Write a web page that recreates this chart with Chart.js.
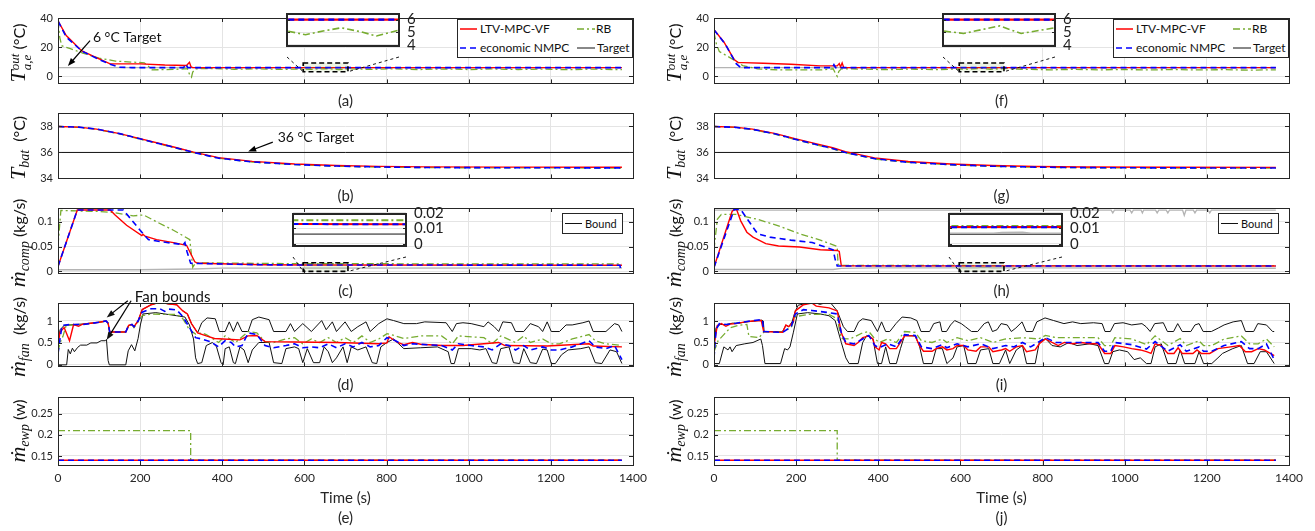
<!DOCTYPE html>
<html>
<head>
<meta charset="utf-8">
<script src="https://cdn.jsdelivr.net/npm/chart.js@4.4.0/dist/chart.umd.min.js"></script>
<style>
  body { margin: 0; background: #fff; width: 1315px; height: 531px; overflow: hidden; position: relative; font-family: Lato, sans-serif; color: #262626; }
  canvas { position: absolute; }
  .lbl { position: absolute; transform: translate(-50%, -50%); font-size: 15px; white-space: nowrap; z-index: 5; }
  .ylab { position: absolute; transform: translate(-50%, -50%) rotate(-90deg); white-space: nowrap; font-size: 16px; z-index: 5; color: #111; }
  .mi { font-family: 'Liberation Serif', serif; font-style: italic; font-size: 22px; }
  .sb { font-family: 'Liberation Serif', serif; font-style: italic; font-size: 14px; vertical-align: -4px; }
  .stk { display: inline-flex; flex-direction: column; font-family: 'Liberation Serif', serif; font-style: italic; font-size: 13px; line-height: 12px; vertical-align: middle; }
  .leg { position: absolute; z-index: 4; }
</style>
</head>
<body>
<script>
// ---- data: time (s), value pairs ----
const xTicks = [0, 200, 400, 600, 800, 1000, 1200, 1400]
const xTickLabels = ['0', '200', '400', '600', '800', '1000', '1200', '1400']
const insetXTicks = [600, 610, 620, 630, 640, 650, 660, 670, 680, 690, 700]

const yTicksA = [0, 20, 40], yLabelsA = ['0', '20', '40']
const yTicksB = [34, 36, 38], yLabelsB = ['34', '36', '38']
const yTicksC = [0, 0.05, 0.1], yLabelsC = ['0', '0.05', '0.1']
const yTicksD = [0, 0.5, 1], yLabelsD = ['0', '0.5', '1']
const yTicksE = [0.15, 0.2, 0.25], yLabelsE = ['0.15', '0.2', '0.25']
const insTicksT = [4, 5, 6], insLabelsT = ['4', '5', '6']
const insTicksM = [0, 0.01, 0.02], insLabelsM = ['0', '0.01', '0.02']

// (a) air outlet temperature
const aRed = [[0,38],[20,28],[58,17.4],[100,12],[127,8.6],[200,8.6],[260,7.8],[313,7.5],[320,9.7],[324,6.5],[328,6],[1373,6]]
const aBlue = [[0,38],[20,27],[58,17.4],[100,11.5],[127,8.3],[150,6.3],[180,6],[306,6],[311,8.5],[316,6],[1373,6]]
const aGreen = [[0,38],[4,27],[9,21],[30,19],[60,16],[100,12.5],[140,10.5],[180,9.8],[210,9.3],[220,7],[229,4.5],[260,4.6],[300,5],[315,5.3],[320,1.5],[325,-0.5],[328,3],[335,5.2],[380,5.4],[430,4.9],[480,5.2],[540,4.8],[597,5.1],[615,4.8],[632,5.1],[650,5.35],[668,5.05],[684,4.7],[705,5.15],[760,4.8],[820,5.2],[880,4.7],[940,5.1],[1000,4.7],[1060,5.1],[1120,4.7],[1180,5],[1240,4.6],[1300,5],[1373,4.6]]
const aTarget = [[0,6],[1373,6]]

// (b) battery temperature
const bRed = [[0,38],[50,37.95],[94,37.8],[150,37.45],[197,37.08],[250,36.67],[289,36.36],[330,36.03],[391,35.6],[473,35.31],[576,35.11],[678,34.99],[781,34.93],[900,34.89],[1100,34.87],[1373,34.86]]
const bBlue = [[0,38],[50,37.95],[94,37.8],[150,37.45],[197,37.07],[250,36.65],[289,36.34],[330,36],[391,35.56],[473,35.27],[576,35.07],[678,34.95],[781,34.88],[900,34.84],[1100,34.82],[1373,34.81]]
const bGreen = [[0,38],[50,37.94],[94,37.78],[150,37.43],[197,37.05],[250,36.63],[289,36.32],[330,35.98],[391,35.55],[473,35.26],[576,35.06],[678,34.94],[781,34.87],[900,34.83],[1100,34.81],[1373,34.8]]
const bTarget = [[0,36],[1400,36]]

// (c) compressor mass flow
const cRed = [[0,0.0096],[47,0.124],[127,0.124],[139,0.114],[167,0.093],[204,0.072],[207,0.075],[212,0.071],[240,0.064],[281,0.058],[313,0.0525],[333,0.019],[340,0.016],[500,0.013],[600,0.0127],[1373,0.0122]]
const cBlue = [[0,0.0096],[47,0.124],[159,0.124],[200,0.083],[220,0.064],[265,0.058],[305,0.054],[309,0.058],[314,0.04],[323,0.016],[500,0.013],[600,0.0127],[1368,0.0122],[1370,0.004]]
const cGreen = [[0,0.052],[7,0.123],[97,0.121],[135,0.119],[183,0.112],[208,0.114],[240,0.1],[281,0.083],[321,0.064],[328,0.008],[335,0.017],[600,0.0152],[1373,0.0148]]
const cBound = [[0,0.003],[200,0.003],[330,0.0045],[400,0.0062],[1373,0.0065]]

// (d) fan mass flow
const dRed = [[0,0.45],[5,0.75],[15,0.85],[28,0.55],[38,0.92],[50,0.88],[60,0.93],[80,0.95],[100,0.97],[117,1],[122,0.95],[126,0.75],[165,0.75],[172,0.9],[180,0.92],[185,0.87],[195,1],[205,1.26],[227,1.37],[248,1.43],[268,1.39],[289,1.37],[304,1.23],[315,1.16],[325,0.94],[340,0.73],[361,0.66],[381,0.6],[402,0.59],[443,0.57],[463,0.66],[484,0.67],[504,0.53],[576,0.52],[678,0.51],[781,0.48],[801,0.5],[806,0.64],[827,0.51],[842,0.46],[863,0.51],[883,0.47],[934,0.44],[986,0.44],[1073,0.51],[1088,0.44],[1191,0.43],[1293,0.48],[1303,0.43],[1373,0.41]]
const dBlue = [[0,0.25],[5,0.6],[10,0.9],[30,0.92],[60,0.92],[100,0.97],[117,1],[122,0.95],[126,0.75],[165,0.75],[172,0.9],[180,0.92],[185,0.87],[195,1],[205,1.2],[227,1.28],[248,1.28],[260,1.22],[270,1.27],[289,1.25],[304,1.1],[320,0.85],[335,0.62],[350,0.59],[371,0.53],[391,0.41],[407,0.55],[422,0.51],[432,0.41],[448,0.44],[463,0.73],[484,0.69],[504,0.44],[525,0.39],[555,0.44],[576,0.48],[596,0.39],[617,0.41],[637,0.39],[658,0.48],[678,0.39],[699,0.48],[719,0.41],[740,0.51],[760,0.41],[781,0.44],[801,0.62],[822,0.55],[842,0.44],[863,0.48],[934,0.44],[960,0.34],[975,0.48],[1006,0.44],[1037,0.41],[1057,0.34],[1078,0.48],[1098,0.44],[1114,0.34],[1134,0.44],[1150,0.34],[1180,0.41],[1201,0.34],[1221,0.34],[1252,0.41],[1293,0.55],[1308,0.41],[1334,0.37],[1355,0.44],[1373,0.12]]
const dGreen = [[0,0.3],[5,0.5],[12,0.65],[20,0.9],[60,0.92],[100,0.97],[117,1],[122,0.95],[126,0.75],[165,0.75],[172,0.88],[180,0.92],[185,0.85],[195,0.98],[205,1.12],[227,1.16],[260,1.15],[289,1.15],[304,1.05],[320,0.8],[335,0.7],[350,0.73],[361,0.69],[391,0.51],[407,0.66],[432,0.51],[463,0.76],[484,0.73],[504,0.53],[525,0.51],[555,0.59],[576,0.62],[596,0.48],[617,0.59],[637,0.51],[658,0.62],[678,0.51],[699,0.62],[719,0.51],[740,0.66],[760,0.51],[781,0.59],[801,0.71],[822,0.66],[842,0.6],[883,0.66],[934,0.66],[960,0.48],[975,0.66],[1037,0.62],[1057,0.48],[1078,0.66],[1114,0.51],[1134,0.66],[1150,0.51],[1180,0.59],[1201,0.48],[1221,0.48],[1252,0.59],[1293,0.69],[1308,0.55],[1334,0.48],[1373,0.44]]
const dUpper = [[0,0.5],[5,0.8],[15,0.9],[40,0.92],[60,0.93],[80,0.95],[100,0.97],[117,1],[122,0.95],[126,0.75],[165,0.75],[172,0.9],[180,0.92],[185,0.87],[195,1],[205,1.26],[227,1.37],[248,1.43],[268,1.39],[289,1.37],[304,1.23],[315,1.16],[325,0.94],[340,0.73],[350,0.96],[363,1.07],[383,1.05],[393,0.76],[407,0.76],[417,0.98],[427,0.76],[437,0.98],[448,0.76],[463,0.76],[473,1.03],[489,1.09],[514,1.03],[525,0.76],[555,0.76],[566,0.94],[576,0.76],[596,0.94],[617,0.76],[642,1.01],[653,0.8],[668,0.98],[678,0.76],[699,0.98],[714,0.76],[730,0.87],[750,0.98],[760,0.76],[781,0.94],[801,1.05],[817,1.01],[842,0.94],[873,0.94],[893,0.98],[945,0.96],[960,0.76],[970,0.94],[986,0.96],[1006,0.94],[1037,0.87],[1047,0.98],[1062,0.87],[1073,0.76],[1083,0.98],[1104,0.96],[1114,0.76],[1134,0.76],[1150,0.94],[1170,0.87],[1180,0.76],[1191,0.98],[1201,0.76],[1221,0.76],[1237,0.91],[1252,0.91],[1278,0.96],[1293,1],[1303,0.76],[1334,0.76],[1355,0.94],[1365,0.91],[1373,0.76]]
const dLower = [[0,0],[21,0],[25,0.35],[30,0.25],[35,0.38],[40,0.3],[48,0.4],[55,0.45],[70,0.45],[80,0.5],[95,0.5],[105,0.55],[115,0.55],[118,0.58],[122,0.1],[125,0],[165,0],[171,0.32],[179,0.46],[187,0.32],[195,0.6],[201,0.93],[207,1.16],[238,1.19],[289,1.12],[309,1.09],[320,0.91],[330,0.59],[335,0.16],[340,0.03],[350,0.05],[361,0.44],[376,0.51],[386,0.41],[397,0.05],[402,0],[407,0.37],[417,0.41],[427,0.05],[432,0.03],[443,0.41],[453,0.34],[463,0.05],[473,0.34],[489,0.51],[514,0.51],[525,0.05],[545,0.03],[555,0.37],[576,0.41],[586,0.37],[596,0.05],[607,0.37],[622,0.05],[637,0.05],[648,0.41],[658,0.3],[668,0.05],[678,0.16],[694,0.41],[704,0.05],[714,0.41],[730,0.34],[750,0.41],[765,0.05],[776,0.03],[786,0.41],[801,0.51],[817,0.59],[842,0.37],[883,0.39],[924,0.41],[950,0.3],[957,0.03],[965,0.03],[975,0.37],[1006,0.37],[1027,0.34],[1042,0.37],[1057,0.05],[1068,0.03],[1078,0.37],[1098,0.41],[1109,0.05],[1124,0.03],[1134,0.37],[1150,0.05],[1165,0.03],[1180,0.36],[1191,0.34],[1201,0.03],[1211,0.03],[1226,0.23],[1242,0.34],[1273,0.37],[1293,0.41],[1308,0.05],[1324,0.03],[1344,0.34],[1360,0.3],[1373,0.03]]

// (e) evaporator water pump
const eRed = [[0,0.14],[1373,0.14]]
const eBlue = [[0,0.14],[1373,0.14]]
const eGreen = [[0,0.21],[323,0.21],[323,0.14],[1373,0.14]]

// (f)
const fRed = [[0,32],[24,23.6],[49,11.6],[59,9.4],[70,9.4],[120,9],[187,8.3],[259,7.2],[300,7.2],[305,8.8],[308,6.5],[312,9.2],[316,6],[1368,6]]
const fBlue = [[0,32],[29,21.4],[54,8.7],[65,6],[288,6],[292,8],[296,6],[1368,6]]
const fGreen = [[0,30],[6,22],[13,17],[44,12],[70,7.4],[106,5.2],[157,4.4],[259,4.4],[290,5.2],[296,2],[300,0],[304,3.5],[310,5.2],[360,5],[420,4.6],[480,5],[540,4.6],[597,5.1],[617,4.9],[652,5.5],[673,4.9],[706,5.35],[760,4.8],[820,4.5],[880,4.8],[940,4.5],[1000,4.7],[1060,4.4],[1120,4.7],[1180,4.4],[1240,4.6],[1300,4.3],[1368,4.5]]
const fTarget = [[0,6],[1368,6]]

// (g)
const gRed = [[0,38],[50,37.95],[94,37.8],[150,37.45],[197,37.06],[250,36.66],[289,36.36],[320,36.06],[391,35.58],[473,35.3],[576,35.11],[678,34.99],[781,34.92],[900,34.88],[1100,34.86],[1368,34.85]]
const gBlue = [[0,38],[50,37.94],[94,37.78],[150,37.42],[197,37.02],[250,36.6],[289,36.3],[320,36],[391,35.52],[473,35.24],[576,35.06],[678,34.94],[781,34.87],[900,34.83],[1100,34.81],[1368,34.8]]
const gGreen = [[0,38],[50,37.93],[94,37.76],[150,37.4],[197,37],[250,36.58],[289,36.28],[320,35.98],[391,35.5],[473,35.23],[576,35.05],[678,34.93],[781,34.86],[900,34.82],[1100,34.8],[1368,34.79]]
const gTarget = [[0,36],[1400,36]]

// (h)
const hRed = [[0,0.0078],[44,0.121],[49,0.125],[55,0.125],[65,0.102],[80,0.079],[95,0.069],[126,0.056],[157,0.051],[208,0.049],[259,0.0435],[300,0.042],[305,0.04],[310,0.011],[1368,0.0106]]
const hBlue = [[0,0.0078],[49,0.125],[65,0.125],[90,0.095],[106,0.076],[136,0.069],[187,0.063],[239,0.058],[290,0.0435],[295,0.024],[300,0.0107],[1368,0.0107]]
const hGreen = [[0,0.0435],[8,0.105],[18,0.115],[54,0.115],[106,0.105],[157,0.092],[208,0.076],[259,0.063],[300,0.05],[302,0.014],[310,0.0116],[1368,0.0114]]
const hBound = [[0,0.0035],[290,0.0035],[310,0.0058],[400,0.0066],[600,0.0068],[640,0.0069],[648,0.0074],[668,0.0075],[676,0.0068],[706,0.0068],[800,0.0066],[1000,0.0064],[1200,0.0062],[1368,0.006]]
const hBoundTop = [[0,0.1235],[967,0.1235],[971,0.118],[975,0.1235],[1013,0.1235],[1017,0.118],[1021,0.1235],[1040,0.1235],[1043,0.118],[1046,0.1235],[1075,0.1235],[1079,0.118],[1083,0.1235],[1101,0.1235],[1105,0.118],[1109,0.1235],[1141,0.1235],[1145,0.113],[1149,0.1235],[1167,0.1235],[1171,0.118],[1175,0.1235],[1203,0.1235],[1207,0.118],[1211,0.1235],[1368,0.1235]]
const hInsetRef = [[597,0.0062],[706,0.0062]]

// (i)
const iRed = [[0,0.44],[8,0.9],[18,0.94],[29,0.88],[39,0.93],[54,0.94],[75,0.98],[95,1],[115,1.01],[121,0.76],[167,0.74],[175,0.91],[182,0.87],[193,0.98],[198,1.23],[218,1.37],[238,1.41],[249,1.34],[280,1.3],[300,1.23],[310,0.73],[321,0.48],[341,0.44],[351,0.51],[362,0.62],[377,0.66],[387,0.59],[392,0.41],[402,0.34],[408,0.51],[418,0.48],[428,0.37],[444,0.37],[454,0.51],[464,0.66],[490,0.66],[500,0.44],[510,0.31],[531,0.31],[541,0.37],[556,0.41],[567,0.34],[582,0.37],[592,0.44],[608,0.44],[618,0.34],[638,0.31],[649,0.41],[669,0.41],[679,0.3],[700,0.34],[710,0.37],[720,0.31],[736,0.41],[751,0.44],[761,0.3],[782,0.34],[792,0.48],[807,0.59],[823,0.51],[838,0.44],[853,0.51],[874,0.48],[894,0.51],[915,0.48],[935,0.48],[951,0.26],[966,0.26],[976,0.44],[997,0.41],[1017,0.37],[1038,0.34],[1053,0.3],[1064,0.26],[1074,0.48],[1089,0.44],[1105,0.26],[1120,0.26],[1130,0.39],[1140,0.26],[1166,0.26],[1176,0.34],[1187,0.26],[1207,0.26],[1227,0.37],[1258,0.41],[1279,0.44],[1294,0.3],[1309,0.3],[1325,0.37],[1340,0.34],[1364,0.21]]
const iBlue = [[0,0.16],[5,0.8],[13,0.94],[30,0.92],[54,0.95],[95,1.01],[118,1.03],[121,0.76],[167,0.74],[188,0.87],[198,1.16],[218,1.26],[238,1.24],[280,1.19],[300,1.16],[310,0.73],[321,0.51],[341,0.48],[362,0.59],[377,0.67],[392,0.44],[402,0.39],[423,0.48],[444,0.41],[464,0.69],[490,0.67],[505,0.41],[531,0.37],[556,0.46],[567,0.39],[592,0.48],[618,0.41],[649,0.48],[679,0.37],[710,0.44],[730,0.41],[751,0.51],[771,0.41],[807,0.62],[833,0.51],[874,0.51],[935,0.51],[951,0.31],[966,0.31],[976,0.51],[1017,0.46],[1053,0.36],[1074,0.53],[1105,0.31],[1135,0.46],[1150,0.31],[1181,0.41],[1192,0.31],[1212,0.31],[1242,0.44],[1284,0.53],[1304,0.37],[1325,0.37],[1345,0.48],[1364,0.12]]
const iGreen = [[0,0.3],[10,0.55],[25,0.7],[40,0.85],[60,0.9],[80,0.92],[85,0.65],[110,0.62],[118,0.72],[122,0.75],[167,0.75],[188,0.85],[198,1.1],[230,1.15],[280,1.15],[300,1.05],[310,0.6],[331,0.59],[362,0.73],[377,0.76],[392,0.59],[402,0.51],[423,0.59],[444,0.51],[464,0.76],[490,0.74],[505,0.55],[531,0.51],[556,0.59],[567,0.51],[592,0.62],[618,0.55],[649,0.62],[679,0.51],[710,0.59],[751,0.62],[790,0.59],[807,0.67],[833,0.62],[874,0.62],[935,0.62],[951,0.44],[966,0.44],[976,0.62],[1017,0.59],[1053,0.46],[1074,0.66],[1105,0.44],[1135,0.6],[1150,0.44],[1181,0.55],[1192,0.44],[1212,0.44],[1242,0.59],[1284,0.66],[1304,0.48],[1325,0.48],[1345,0.59],[1364,0.41]]
const iUpper = [[0,0.45],[5,0.85],[15,0.92],[30,0.92],[45,0.95],[60,0.95],[80,0.98],[100,1],[115,1.02],[120,1],[122,0.76],[167,0.76],[175,0.9],[182,0.87],[190,0.98],[197,1.2],[205,1.36],[225,1.4],[245,1.42],[258,1.38],[270,1.41],[285,1.4],[300,1.23],[315,0.87],[325,0.76],[341,0.76],[352,0.98],[362,1.05],[383,1.01],[398,0.76],[408,0.98],[418,0.76],[428,0.76],[443,0.94],[458,1.09],[479,1.07],[494,1.01],[504,0.76],[525,0.76],[535,0.94],[550,0.98],[555,0.76],[566,0.76],[576,0.91],[586,1.01],[602,0.94],[612,0.87],[627,0.76],[642,0.76],[658,0.94],[668,0.98],[678,0.76],[689,0.8],[699,0.94],[714,0.91],[724,0.76],[735,0.84],[750,0.98],[760,0.76],[776,0.76],[786,0.98],[806,1.07],[827,1.01],[852,0.94],[873,0.98],[893,0.94],[924,0.96],[945,0.94],[952,0.76],[965,0.76],[975,0.94],[996,0.96],[1017,0.91],[1042,0.94],[1052,0.87],[1062,0.76],[1073,0.94],[1094,0.96],[1104,0.76],[1119,0.76],[1129,0.94],[1140,0.76],[1161,0.76],[1171,0.91],[1181,0.94],[1191,0.76],[1211,0.76],[1228,0.84],[1242,0.91],[1264,0.98],[1284,1.01],[1294,0.76],[1314,0.76],[1324,0.94],[1345,0.91],[1360,0.76],[1364,0.76]]
const iLower = [[0,0.03],[13,0.03],[24,0.41],[34,0.34],[39,0.41],[44,0.3],[54,0.44],[75,0.48],[95,0.51],[114,0.59],[118,0.44],[124,0.03],[162,0.03],[172,0.37],[179,0.34],[185,0.41],[193,0.73],[203,1.16],[228,1.19],[259,1.16],[280,1.12],[295,1.01],[310,0.51],[321,0.16],[329,0.03],[351,0.03],[362,0.51],[372,0.67],[387,0.59],[398,0.03],[408,0.03],[418,0.41],[428,0.03],[444,0.03],[454,0.37],[464,0.67],[490,0.66],[500,0.44],[510,0.03],[531,0.03],[541,0.37],[556,0.37],[567,0.03],[582,0.16],[592,0.41],[608,0.44],[618,0.03],[638,0.03],[649,0.34],[669,0.37],[679,0.03],[695,0.03],[710,0.34],[720,0.03],[736,0.34],[751,0.44],[761,0.03],[782,0.03],[792,0.51],[807,0.6],[823,0.44],[843,0.41],[864,0.51],[884,0.44],[915,0.48],[935,0.44],[951,0.03],[961,0.03],[971,0.3],[987,0.34],[1007,0.3],[1023,0.12],[1038,0.16],[1053,0.03],[1064,0.03],[1074,0.41],[1089,0.48],[1105,0.03],[1125,0.03],[1135,0.34],[1146,0.03],[1171,0.03],[1181,0.3],[1192,0.03],[1212,0.03],[1227,0.16],[1238,0.26],[1263,0.37],[1284,0.44],[1299,0.03],[1315,0.03],[1330,0.3],[1345,0.3],[1364,0.03]]

// (j)
const jRed = [[0,0.14],[1368,0.14]]
const jBlue = [[0,0.14],[1368,0.14]]
const jGreen = [[0,0.21],[300,0.21],[300,0.14],[1368,0.14]]

// ---- layout ----
const PLOT_W = 575
const colLeft = [58, 714]
const rowTop = [18, 113, 208, 303, 397]
const rowH = [69, 69, 69, 67, 68]
const GRID = '#e4e4e4'
const INK = '#262626'
const FONT = 'Lato'

const RED = { borderColor: '#ff0000', borderWidth: 1.4 }
const BLUE = { borderColor: '#0000ff', borderWidth: 1.6, borderDash: [6, 4] }
const GREEN = { borderColor: '#77ac30', borderWidth: 1.3, borderDash: [7, 3, 2, 3] }
const BLACK = { borderColor: '#111111', borderWidth: 1 }
const GREY = { borderColor: '#b4b4b4', borderWidth: 1.3 }

function series(arr, style) {
  return Object.assign({ data: arr.map(p => ({ x: p[0], y: p[1] })), pointRadius: 0, fill: false, tension: 0 }, style)
}

function addCanvas(left, top, w, h, z) {
  const c = document.createElement('canvas')
  c.width = w
  c.height = h
  c.style.left = left + 'px'
  c.style.top = top + 'px'
  c.style.zIndex = z
  document.body.appendChild(c)
  return c
}

const bgPlugin = {
  id: 'bg',
  beforeDraw(chart, args, o) {
    if (!o.on) return
    const a = chart.chartArea
    chart.ctx.save()
    chart.ctx.fillStyle = '#fff'
    chart.ctx.fillRect(a.left, a.top, a.width, a.height)
    chart.ctx.restore()
  }
}

// box round the axes with inward tick marks
const framePlugin = {
  id: 'frame',
  afterDraw(chart, args, o) {
    const { ctx, chartArea: a, scales: { x, y } } = chart
    const len = o.len || 4
    ctx.save()
    ctx.strokeStyle = INK
    ctx.lineWidth = 1
    ctx.beginPath()
    x.ticks.forEach(t => {
      const px = Math.round(x.getPixelForValue(t.value)) + 0.5
      ctx.moveTo(px, a.top); ctx.lineTo(px, a.top + len)
      ctx.moveTo(px, a.bottom); ctx.lineTo(px, a.bottom - len)
    })
    y.ticks.forEach(t => {
      const py = Math.round(y.getPixelForValue(t.value)) + 0.5
      ctx.moveTo(a.left, py); ctx.lineTo(a.left + len, py)
      ctx.moveTo(a.right, py); ctx.lineTo(a.right - len, py)
    })
    ctx.stroke()
    ctx.lineWidth = o.width || 1
    const off = (o.width || 1) % 2 ? 0.5 : 0
    ctx.strokeRect(Math.round(a.left) + off, Math.round(a.top) + off, Math.round(a.width), Math.round(a.height))
    ctx.restore()
  }
}

function arrow(ctx, x1, y1, x2, y2) {
  const ang = Math.atan2(y2 - y1, x2 - x1)
  ctx.beginPath()
  ctx.moveTo(x1, y1)
  ctx.lineTo(x2 - 5 * Math.cos(ang), y2 - 5 * Math.sin(ang))
  ctx.stroke()
  ctx.beginPath()
  ctx.moveTo(x2, y2)
  ctx.lineTo(x2 - 8 * Math.cos(ang) + 3 * Math.sin(ang), y2 - 8 * Math.sin(ang) - 3 * Math.cos(ang))
  ctx.lineTo(x2 - 8 * Math.cos(ang) - 3 * Math.sin(ang), y2 - 8 * Math.sin(ang) + 3 * Math.cos(ang))
  ctx.closePath()
  ctx.fill()
}

// text, arrows and zoom boxes given in data units
const notesPlugin = {
  id: 'notes',
  afterDraw(chart, args, o) {
    const { ctx, scales: { x, y } } = chart
    const X = v => x.getPixelForValue(v), Y = v => y.getPixelForValue(v)
    ctx.save()
    ctx.strokeStyle = '#000'
    ctx.fillStyle = '#000'
    ;(o.items || []).forEach(it => {
      if (it.arrow) {
        ctx.lineWidth = 1.2
        arrow(ctx, X(it.arrow[0]), Y(it.arrow[1]), X(it.arrow[2]), Y(it.arrow[3]))
      }
      if (it.text) {
        ctx.font = (it.size || 14) + 'px ' + FONT
        ctx.textAlign = 'left'
        ctx.textBaseline = 'middle'
        ctx.fillStyle = '#111'
        ctx.fillText(it.text, X(it.at[0]), Y(it.at[1]))
      }
      if (it.zoom) {
        const [t1, t2, v1, v2] = it.zoom
        const l = X(t1), r = X(t2), tp = Y(v2), bt = Y(v1)
        ctx.fillStyle = 'rgba(119,172,48,0.13)'
        ctx.fillRect(l, tp, r - l, bt - tp)
        ctx.lineWidth = 1.6
        ctx.setLineDash([5, 3])
        ctx.strokeRect(l, tp, r - l, bt - tp)
        const [ix, iy, iw, ih] = it.inset
        const ox = o.origin[0], oy = o.origin[1]
        ctx.lineWidth = 0.9
        ctx.setLineDash([3, 3])
        ctx.beginPath()
        ctx.moveTo(ix - ox, iy + ih - oy); ctx.lineTo(l, bt)
        ctx.moveTo(ix + iw - ox, iy + ih - oy); ctx.lineTo(r, bt)
        ctx.stroke()
        ctx.setLineDash([])
      }
    })
    ctx.restore()
  }
}

function options(o) {
  const left = o.yPos === 'left'
  return {
    responsive: false, animation: false, devicePixelRatio: 1,
    layout: { padding: { left: left ? 0 : o.pad.l, top: o.pad.t, right: left ? o.pad.r : 0, bottom: 0 } },
    plugins: {
      legend: { display: false }, tooltip: { enabled: false },
      bg: { on: !!o.white },
      frame: { width: o.frameWidth, len: o.tickLen },
      notes: { items: o.notes || [], origin: o.origin }
    },
    scales: {
      x: {
        type: 'linear', min: o.xMin, max: o.xMax, bounds: 'data',
        afterBuildTicks: s => { s.ticks = o.xTicks.map(v => ({ value: v })) },
        afterFit: s => { s.height = o.pad.b },
        grid: { color: GRID, drawTicks: false }, border: { display: false },
        ticks: { display: o.showX, autoSkip: false, maxRotation: 0, padding: 6, color: INK, font: { family: FONT, size: 12 }, callback: (v, i) => o.xLabels[i] }
      },
      y: {
        type: 'linear', position: o.yPos, min: o.y.min, max: o.y.max, bounds: 'data',
        afterBuildTicks: s => { s.ticks = o.y.ticks.map(v => ({ value: v })) },
        afterFit: s => { s.width = left ? o.pad.l : o.pad.r },
        grid: { color: GRID, drawTicks: false }, border: { display: false },
        ticks: { autoSkip: false, padding: left ? 5 : 8, color: left ? INK : '#222', font: { family: FONT, size: o.y.size || 11 }, callback: (v, i) => o.y.labels[i] }
      }
    }
  }
}

function panel(col, row, y, sets, notes) {
  const x0 = colLeft[col], y0 = rowTop[row], h = rowH[row]
  const pad = { l: 55, t: Math.min(22, y0), r: 22, b: row === 4 ? 30 : 8 }
  const origin = [x0 - pad.l, y0 - pad.t]
  const c = addCanvas(origin[0], origin[1], PLOT_W + pad.l + pad.r, h + pad.t + pad.b, 1)
  return new Chart(c, {
    type: 'line',
    data: { datasets: sets },
    options: options({ pad, origin, xMin: 0, xMax: 1400, xTicks, xLabels: xTickLabels, showX: row === 4, y, yPos: 'left', notes, frameWidth: 1, tickLen: 4 }),
    plugins: [bgPlugin, framePlugin, notesPlugin]
  })
}

function inset(rect, y, sets) {
  const pad = { l: 3, t: 10, r: 48, b: 6 }
  const c = addCanvas(rect[0] - pad.l, rect[1] - pad.t, rect[2] + pad.l + pad.r, rect[3] + pad.t + pad.b, 3)
  return new Chart(c, {
    type: 'line',
    data: { datasets: sets },
    options: options({ pad, origin: [0, 0], xMin: 597, xMax: 706, xTicks: insetXTicks, xLabels: [], showX: false, y, yPos: 'right', frameWidth: 2, tickLen: 3, white: true }),
    plugins: [bgPlugin, framePlugin, notesPlugin]
  })
}

const yA = { min: -4.8, max: 40, ticks: yTicksA, labels: yLabelsA }
const yB = { min: 34, max: 39.04, ticks: yTicksB, labels: yLabelsB }
const yC = { min: -0.0044, max: 0.128, ticks: yTicksC, labels: yLabelsC }
const yD = { min: -0.035, max: 1.41, ticks: yTicksD, labels: yLabelsD }
const yE = { min: 0.1286, max: 0.29, ticks: yTicksE, labels: yLabelsE }
const yInsT = { min: 3.91, max: 6.44, ticks: insTicksT, labels: insLabelsT, size: 15 }
const yInsM = { min: -0.0014, max: 0.0192, ticks: insTicksM, labels: insLabelsM, size: 15 }

const insetA = [287, 7, 112, 50], insetF = [943, 7, 112, 50]
const insetC = [293, 207, 113, 50], insetH = [949, 207, 113, 50]

// left column
panel(0, 0, yA, [series(aBlue, BLUE), series(aRed, RED), series(aGreen, GREEN), series(aTarget, GREY)], [
  { arrow: [78, 24.5, 24, 7.1] }, { text: '6 °C Target', at: [85, 26.5] },
  { zoom: [597, 706, 3.2, 9.2], inset: insetA }
])
panel(0, 1, yB, [series(bBlue, BLUE), series(bRed, RED), series(bGreen, GREEN), series(bTarget, BLACK)], [
  { arrow: [523, 36.8, 463, 36.07] }, { text: '36 °C Target', at: [535, 37.15] }
])
panel(0, 2, yC, [series(cBlue, BLUE), series(cRed, RED), series(cGreen, GREEN), series(cBound, GREY)], [
  { zoom: [597, 706, -0.0003, 0.0173], inset: insetC }
])
panel(0, 3, yD, [series(dBlue, BLUE), series(dRed, RED), series(dGreen, GREEN), series(dUpper, BLACK), series(dLower, BLACK)], [
  { text: 'Fan bounds', at: [187, 1.55], size: 15 },
  { arrow: [170, 1.46, 118.6, 1.08] }, { arrow: [178, 1.46, 118.6, 0.57] }
])
panel(0, 4, yE, [series(eBlue, BLUE), series(eRed, RED), series(eGreen, GREEN)])

// right column
panel(1, 0, yA, [series(fBlue, BLUE), series(fRed, RED), series(fGreen, GREEN), series(fTarget, GREY)], [
  { zoom: [597, 706, 3.2, 9.2], inset: insetF }
])
panel(1, 1, yB, [series(gBlue, BLUE), series(gRed, RED), series(gGreen, GREEN), series(gTarget, BLACK)])
panel(1, 2, yC, [series(hBlue, BLUE), series(hRed, RED), series(hGreen, GREEN), series(hBound, GREY), series(hBoundTop, GREY)], [
  { zoom: [597, 706, -0.0003, 0.0173], inset: insetH }
])
panel(1, 3, yD, [series(iBlue, BLUE), series(iRed, RED), series(iGreen, GREEN), series(iUpper, BLACK), series(iLower, BLACK)])
panel(1, 4, yE, [series(jBlue, BLUE), series(jRed, RED), series(jGreen, GREEN)])

// zoomed insets
const THICK = w => s => Object.assign({}, s, { borderWidth: w })
inset(insetA, yInsT, [series(aBlue, THICK(2.2)(BLUE)), series(aRed, THICK(2.2)(RED)), series(aGreen, THICK(1.6)(GREEN))])
inset(insetF, yInsT, [series(fBlue, THICK(2.2)(BLUE)), series(fRed, THICK(2.2)(RED)), series(fGreen, THICK(1.6)(GREEN))])
inset(insetC, yInsM, [series(cBlue, THICK(2)(BLUE)), series(cRed, THICK(2)(RED)), series(cGreen, THICK(2)(GREEN)), series(cBound, BLACK)])
inset(insetH, yInsM, [series(hBlue, THICK(2)(BLUE)), series(hRed, THICK(2)(RED)), series(hGreen, THICK(2)(GREEN)), series(hBound, GREY), series(hInsetRef, BLACK)])

// ---- legends ----
function legendMain(left, top) {
  const d = document.createElement('div')
  d.className = 'leg'
  d.style.left = left + 'px'
  d.style.top = top + 'px'
  d.innerHTML = `<svg width="176" height="39" font-family="Lato" font-size="12" fill="#111">
    <rect x="0.5" y="0.5" width="175" height="38" fill="#fff" stroke="#262626"/>
    <line x1="3" y1="10" x2="20" y2="10" stroke="#ff0000" stroke-width="1.5"/>
    <text x="23" y="14">LTV-MPC-VF</text>
    <line x1="120" y1="10" x2="138" y2="10" stroke="#77ac30" stroke-width="1.4" stroke-dasharray="7 3 2 3"/>
    <text x="139" y="14">RB</text>
    <line x1="3" y1="29" x2="20" y2="29" stroke="#0000ff" stroke-width="1.6" stroke-dasharray="6 4"/>
    <text x="23" y="33">economic NMPC</text>
    <line x1="120" y1="29" x2="138" y2="29" stroke="#555" stroke-width="1.4"/>
    <text x="140" y="33">Target</text>
  </svg>`
  document.body.appendChild(d)
}
function legendBound(left, top) {
  const d = document.createElement('div')
  d.className = 'leg'
  d.style.left = left + 'px'
  d.style.top = top + 'px'
  d.innerHTML = `<svg width="61" height="21" font-family="Lato" font-size="11" fill="#111">
    <rect x="0.5" y="0.5" width="60" height="20" fill="#fff" stroke="#262626"/>
    <line x1="3" y1="10.5" x2="20" y2="10.5" stroke="#111" stroke-width="1"/>
    <text x="23" y="14.5">Bound</text>
  </svg>`
  document.body.appendChild(d)
}
legendMain(457, 19)
legendMain(1113, 19)
legendBound(562, 213)
legendBound(1218, 213)

// ---- text labels ----
function label(html, x, y, cls, size) {
  const d = document.createElement('div')
  d.className = cls
  d.style.left = x + 'px'
  d.style.top = y + 'px'
  if (size) d.style.fontSize = size + 'px'
  d.innerHTML = html
  document.body.appendChild(d)
}
const yTitles = [
  '<span class="mi">T</span><span class="stk"><span>out</span><span>a,e</span></span>&nbsp;(°C)',
  '<span class="mi">T</span><span class="sb">bat</span>&nbsp;&nbsp;(°C)',
  '<span class="mi">ṁ</span><span class="sb">comp</span>&nbsp;(kg/s)',
  '<span class="mi">ṁ</span><span class="sb">fan</span>&nbsp;&nbsp;(kg/s)',
  '<span class="mi">ṁ</span><span class="sb">ewp</span>&nbsp;(w)'
]
const tags = [['(a)', '(b)', '(c)', '(d)', '(e)'], ['(f)', '(g)', '(h)', '(i)', '(j)']]
const tagY = [100, 195, 290, 384, 517]
;[0, 1].forEach(col => {
  const cx = colLeft[col] + PLOT_W / 2
  yTitles.forEach((t, r) => label(t, col === 0 ? 19 : 675, rowTop[r] + rowH[r] / 2, 'ylab'))
  tags[col].forEach((t, r) => label(t, cx, tagY[r], 'lbl'))
  label('Time (s)', cx, 497, 'lbl', 15)
})
</script>
</body>
</html>
